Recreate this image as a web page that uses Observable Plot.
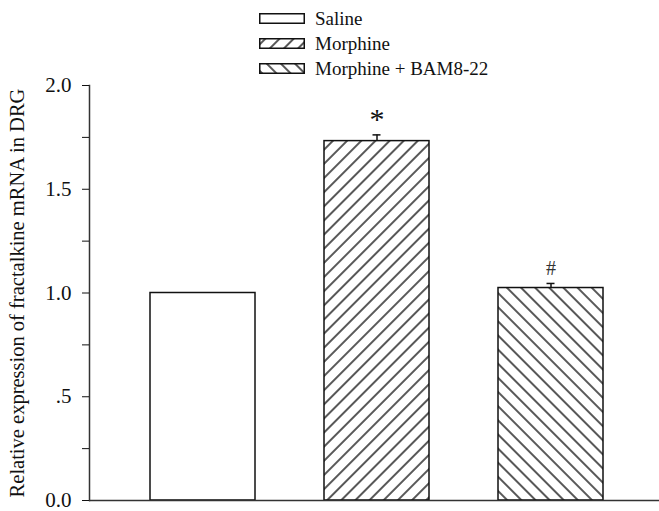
<!DOCTYPE html>
<html>
<head>
<meta charset="utf-8">
<script src="https://cdn.jsdelivr.net/npm/d3@7"></script>
<script src="https://cdn.jsdelivr.net/npm/@observablehq/plot@0.6"></script>
<style>
  html, body { margin: 0; padding: 0; background: white; }
  #wrap { position: relative; width: 659px; height: 511px; }
  #legend { position: absolute; left: 259px; top: 6px; font-family: "Liberation Serif", serif; font-size: 19px; color: #111; }
  .row { display: flex; align-items: center; height: 25px; }
  .row svg { margin-right: 10px; }
</style>
</head>
<body>
<svg width="0" height="0" style="position:absolute">
  <defs>
    <pattern id="hatchFwd" patternUnits="userSpaceOnUse" width="10" height="10" patternTransform="rotate(45)">
      <line x1="5" y1="-1" x2="5" y2="11" stroke="#111" stroke-width="1.4"/>
    </pattern>
    <pattern id="hatchBack" patternUnits="userSpaceOnUse" width="10" height="10" patternTransform="rotate(-45)">
      <line x1="5" y1="-1" x2="5" y2="11" stroke="#111" stroke-width="1.4"/>
    </pattern>
  </defs>
</svg>
<div id="wrap">
  <div id="chart"></div>
  <div id="legend"></div>
</div>
<script>
const categories = ["Saline", "Morphine", "Morphine + BAM8-22"];
const values = [1.0, 1.732, 1.024];
const errors = [0, 0.03, 0.022];
const annotations = ["", "*", "#"];
const fills = ["white", "url(#hatchFwd)", "url(#hatchBack)"];
const yTicks = [0, 0.5, 1, 1.5, 2];
const yTickLabels = ["0.0", ".5", "1.0", "1.5", "2.0"];
const yMinorTicks = [0.25, 0.75, 1.25, 1.75];
const yLabel = "Relative expression of fractalkine mRNA in DRG";

const data = categories.map((c, i) => ({cat: c, value: values[i], err: errors[i], note: annotations[i], fill: fills[i]}));
const withErr = data.filter(d => d.err > 0);

const chart = Plot.plot({
  width: 659,
  height: 511,
  marginLeft: 89,
  marginRight: 0,
  marginTop: 85,
  marginBottom: 11,
  x: {domain: categories, paddingInner: 0.394, paddingOuter: 0.33, align: 0.52, axis: null},
  y: {domain: [0, 2]},
  color: {type: "identity"},
  style: {fontFamily: "Liberation Serif, serif", fontSize: "19px", color: "#111", background: "white"},
  marks: [
    Plot.barY(data, {x: "cat", y: "value", fill: "fill", stroke: "#111", strokeWidth: 1.5}),
    Plot.ruleX(withErr, {x: "cat", y1: "value", y2: d => d.value + d.err, stroke: "#111", strokeWidth: 1.5}),
    Plot.tickY(withErr, {x: "cat", y: d => d.value + d.err, insetLeft: 48.5, insetRight: 48.5, stroke: "#111", strokeWidth: 1.5}),
    Plot.text(data.filter(d => d.note === "*"), {x: "cat", y: d => d.value + d.err, text: "note", lineAnchor: "bottom", dy: -6, fontSize: 30}),
    Plot.text(data.filter(d => d.note === "#"), {x: "cat", y: d => d.value + d.err, text: "note", lineAnchor: "bottom", dy: -8, fontSize: 20, fill: "#333"}),
    Plot.ruleY([0], {stroke: "#333", strokeWidth: 1.5}),
    Plot.frame({anchor: "left", stroke: "#333", strokeWidth: 1.5}),
    Plot.axisY({ticks: yTicks, tickFormat: d => yTickLabels[yTicks.indexOf(d)], tickSize: 7, tickPadding: 11, tickStrokeWidth: 1.3,
      fontSize: 21, label: null}),
    Plot.axisY({ticks: [], label: yLabel, labelAnchor: "center", labelArrow: "none", labelOffset: 80, fontSize: 20.5}),
    Plot.axisY(yMinorTicks, {tickSize: 7, text: null, label: null, tickStrokeWidth: 1.3})
  ]
});
document.getElementById("chart").appendChild(chart);

const legend = d3.select("#legend");
categories.forEach((c, i) => {
  const row = legend.append("div").attr("class", "row");
  const s = row.append("svg").attr("width", 46).attr("height", 11);
  s.append("rect").attr("x", 0.75).attr("y", 0.75).attr("width", 44.5).attr("height", 9.5)
    .attr("fill", fills[i]).attr("stroke", "#111").attr("stroke-width", 1.5);
  row.append("span").text(c);
});
</script>
</body>
</html>
